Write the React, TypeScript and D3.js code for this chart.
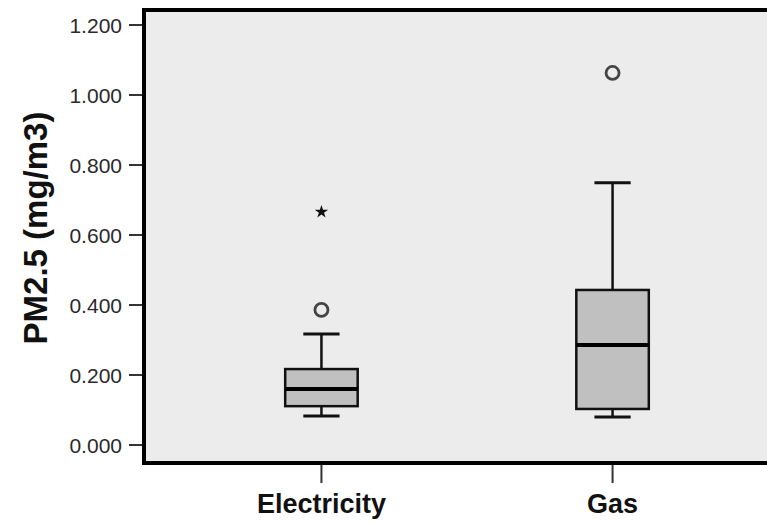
import React from 'react';
import * as d3 from 'd3';

// Values (mg/m3)
const categories = ['Electricity', 'Gas'];
const lowerWhisker = [0.083, 0.080];
const q1 = [0.111, 0.103];
const median = [0.160, 0.286];
const q3 = [0.217, 0.443];
const upperWhisker = [0.317, 0.749];
const circleOutliers = [[0.386], [1.063]];
const starOutliers = [[0.666], []];
const yTicks = [0, 0.2, 0.4, 0.6, 0.8, 1.0, 1.2];
const yLabel = 'PM2.5 (mg/m3)';

const W = 767;
const H = 522;

export default function App() {
  const plot = { left: 144, top: 10, bottom: 463, right: 790 };

  const y = d3.scaleLinear().domain([-0.0514, 1.2429]).range([plot.bottom, plot.top]);
  const x = d3.scaleBand<string>()
    .domain(categories)
    .range([plot.left, plot.right])
    .paddingInner(0.751)
    .paddingOuter(0.485);

  const fmt = d3.format('.3f');
  const bw = x.bandwidth();
  const star = d3.symbol().type(d3.symbolStar).size(55);

  return (
    <svg width={W} height={H} style={{ position: 'absolute', left: 0, top: 0, background: '#fff' }}
      fontFamily="'Liberation Sans', Arial, sans-serif">
      {/* plot background */}
      <rect x={plot.left} y={plot.top} width={plot.right - plot.left} height={plot.bottom - plot.top} fill="#ececec" />

      {/* y ticks */}
      {yTicks.map(t => (
        <g key={t} transform={`translate(0,${y(t)})`}>
          <line x1={plot.left - 15} x2={plot.left} stroke="#333" strokeWidth={2} />
          <text x={plot.left - 22} dy="0.36em" textAnchor="end" fontSize={21} fill="#2a2a2a">{fmt(t)}</text>
        </g>
      ))}

      {/* x ticks & labels */}
      {categories.map(c => {
        const cx = (x(c) as number) + bw / 2;
        return (
          <g key={c}>
            <line x1={cx} x2={cx} y1={plot.bottom} y2={plot.bottom + 20} stroke="#333" strokeWidth={2} />
            <text x={cx} y={513} textAnchor="middle" fontSize={27} fontWeight="bold" fill="#111">{c}</text>
          </g>
        );
      })}

      {/* boxes */}
      {categories.map((c, i) => {
        const x0 = x(c) as number;
        const cx = x0 + bw / 2;
        const capW = bw / 2;
        return (
          <g key={c} stroke="#111">
            <line x1={cx} x2={cx} y1={y(upperWhisker[i])} y2={y(q3[i])} strokeWidth={2.5} />
            <line x1={cx} x2={cx} y1={y(q1[i])} y2={y(lowerWhisker[i])} strokeWidth={2.5} />
            <line x1={cx - capW / 2} x2={cx + capW / 2} y1={y(upperWhisker[i])} y2={y(upperWhisker[i])} strokeWidth={3} />
            <line x1={cx - capW / 2} x2={cx + capW / 2} y1={y(lowerWhisker[i])} y2={y(lowerWhisker[i])} strokeWidth={3} />
            <rect x={x0} y={y(q3[i])} width={bw} height={y(q1[i]) - y(q3[i])} fill="#c0c0c0" strokeWidth={2.5} />
            <line x1={x0} x2={x0 + bw} y1={y(median[i])} y2={y(median[i])} strokeWidth={4} stroke="#000" />
            {circleOutliers[i].map(v => (
              <circle key={v} cx={cx} cy={y(v)} r={6.5} fill="none" stroke="#444" strokeWidth={2.8} />
            ))}
            {starOutliers[i].map(v => (
              <path key={v} d={star() as string} transform={`translate(${cx},${y(v)})`} fill="#111" stroke="none" />
            ))}
          </g>
        );
      })}

      {/* frame */}
      <path d={`M${plot.right},${plot.top}H${plot.left}V${plot.bottom}H${plot.right}`} fill="none" stroke="#000" strokeWidth={4} />

      {/* y axis title */}
      <text transform={`translate(47,${(y(0) + y(1.2)) / 2 - 7}) rotate(-90)`} textAnchor="middle" fontSize={33} fontWeight="bold" fill="#111">{yLabel}</text>
    </svg>
  );
}
